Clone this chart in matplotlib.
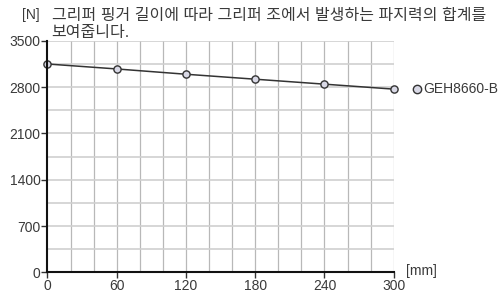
import matplotlib
matplotlib.use('Agg')
import matplotlib.pyplot as plt
import numpy as np

plt.rcParams['font.family'] = ['Liberation Sans', 'Noto Sans CJK KR', 'DejaVu Sans']

# finger length [mm] vs. total gripping force [N]
finger_length = [0, 60, 120, 180, 240, 300]
grip_force = [3150, 3075, 2995, 2920, 2845, 2770]
series_name = 'GEH8660-B'
x_ticks = [0, 60, 120, 180, 240, 300]
y_ticks = [0, 700, 1400, 2100, 2800, 3500]

fig = plt.figure(figsize=(5.01, 2.93), dpi=100)
ax = fig.add_axes([0.0948, 0.0706, 0.691, 0.790])

ax.set_xlim(0, 300)
ax.set_ylim(0, 3500)

# grid: minor every 20 mm / 350 N
for gx in np.arange(20, 301, 20):
    ax.axvline(gx, color='#b8b8b8', lw=0.9, zorder=1)
for gy in np.arange(350, 3501, 350):
    ax.axhline(gy, color='#d0d0d0', lw=1.2, zorder=1)

ax.plot(finger_length, grip_force, color='#333333', lw=1.1, zorder=3,
        marker='o', markersize=5.2, markerfacecolor='#d9d9e6',
        markeredgecolor='#333333', markeredgewidth=1.0, clip_on=False)

ax.set_xticks(x_ticks)
ax.set_yticks(y_ticks)
ax.tick_params(axis='both', direction='out', length=4, width=1,
               labelsize=10, labelcolor='#3a3a3a', color='#333333', pad=1)

for s in ['top', 'right']:
    ax.spines[s].set_visible(False)
for s in ['left', 'bottom']:
    ax.spines[s].set_color('#111111')
    ax.spines[s].set_linewidth(1.5)
    ax.spines[s].set_zorder(4)

# legend drawn by hand to the right of the plot
ax.plot([320], [2770], marker='o', markersize=6, markerfacecolor='#d9d9e6',
        markeredgecolor='#333333', markeredgewidth=1.0, clip_on=False)
ax.text(325.5, 2770, series_name, fontsize=10, color='#3a3a3a',
        va='center', ha='left')

ax.text(311, 25, '[mm]', fontsize=10, color='#3a3a3a', va='center', ha='left')

fig.text(0.044, 0.972, '[N]', fontsize=10, color='#3a3a3a', va='top', ha='left')
fig.text(0.103, 0.972, '그리퍼 핑거 길이에 따라 그리퍼 조에서 발생하는 파지력의 합계를\n보여줍니다.',
         fontsize=11.5, color='#3a3a3a', va='top', ha='left', linespacing=1.18)

fig.savefig('out.png', dpi=100)
